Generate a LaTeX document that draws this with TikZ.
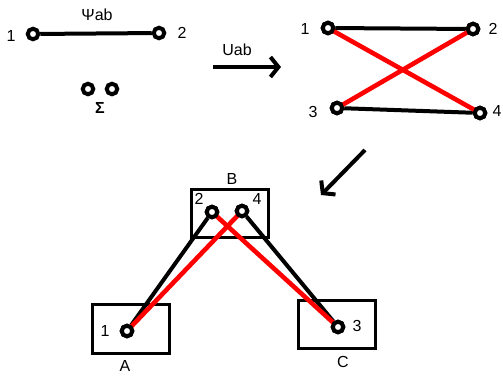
\documentclass[tikz,border=0pt]{standalone}
\usepackage{fontspec}
\setmainfont{Liberation Sans}
\usetikzlibrary{arrows.meta}

\tikzset{
  port/.style={circle, draw, line width=4pt, fill=white, inner sep=0pt, minimum size=10.5pt},
  bond/.style={line width=4pt},
  swap/.style={line width=4.6pt, red},
  site/.style={draw, line width=3pt, inner sep=0pt},
  lbl/.style={inner sep=0pt},
}

\begin{document}
\begin{tikzpicture}[x=1pt,y=-1pt,font=\fontsize{16}{18}\selectfont]
\useasboundingbox (0,0) rectangle (503,375);

% the pair 1--2
\begin{scope}
\node[port] (p1) at (33,34) {};
\node[port] (p2) at (159,33) {};
\draw[bond] (p1) -- (p2);
\node[lbl] (l1) at (11,36) {1};
\node[lbl] (l2) at (182,33) {2};
\node[lbl] (psi) at (97,15) {Ψab};
\node[port] (s1) at (88,89) {};
\node[port] (s2) at (112,89) {};
\node[lbl] (sig) at (100,108) {\bfseries Σ};
\end{scope}

% the map
\coordinate (ua) at (213,67);
\coordinate (ub) at (281,67);
\draw[line width=4pt, -{Straight Barb[length=8pt,width=20pt]}] (ua) -- (ub);
\node[lbl] (uab) at (237,50) {Uab};

% four ports
\begin{scope}
\node[port] (q1) at (328,28) {};
\node[port] (q2) at (473,29) {};
\node[port] (q3) at (337,108) {};
\node[port] (q4) at (480,113) {};
\draw[bond] (q1) -- (q2);
\draw[bond] (q3) -- (q4);
\draw[swap] (q1.center) -- (q4.center);
\draw[swap] (q3.center) -- (q2.center);
\node[port] at (328,28) {};
\node[port] at (473,29) {};
\node[port] at (337,108) {};
\node[port] at (480,113) {};
\node[lbl] (m1) at (305,29) {1};
\node[lbl] (m2) at (493,29) {2};
\node[lbl] (m3) at (313,112) {3};
\node[lbl] (m4) at (497,111) {4};
\end{scope}

\coordinate (da) at (365,150);
\coordinate (db) at (321,195);
\draw[line width=4pt, -{Straight Barb[length=8pt,width=20pt]}] (da) -- (db);

% three sites
\begin{scope}
\node[site, minimum width=77pt, minimum height=48pt] (B) at (229.5,213) {};
\node[site, minimum width=77pt, minimum height=49pt] (A) at (130.5,328.5) {};
\node[site, minimum width=77pt, minimum height=48pt] (C) at (336.5,324) {};
\node[lbl] (lB) at (232,179) {B};
\node[lbl] (lA) at (125,366) {A};
\node[lbl] (lC) at (343,362) {C};
\node[port] (r2) at (212,212) {};
\node[port] (r4) at (242,211) {};
\node[port] (r1) at (127,331) {};
\node[port] (r3) at (338,327) {};
\draw[bond] (r1) -- (r2);
\draw[bond] (r4) -- (r3);
\draw[swap] (r1.center) -- (r4.center);
\draw[swap] (r2.center) -- (r3.center);
\node[port] at (212,212) {};
\node[port] at (242,211) {};
\node[port] at (127,331) {};
\node[port] at (338,327) {};
\node[lbl] (n2) at (199,199) {2};
\node[lbl] (n4) at (257,199) {4};
\node[lbl] (n1) at (105,331) {1};
\node[lbl] (n3) at (357,326) {3};
\end{scope}

\end{tikzpicture}
\end{document}
